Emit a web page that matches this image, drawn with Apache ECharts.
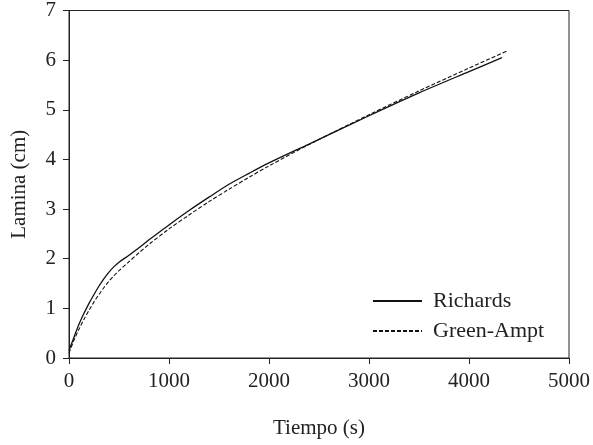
<!DOCTYPE html>
<html>
<head>
<meta charset="utf-8">
<script src="https://cdn.jsdelivr.net/npm/echarts@6/dist/echarts.min.js"></script>
<style>html,body{margin:0;padding:0;background:#fff}#c{width:593px;height:445px}</style>
</head>
<body>
<div id="c"></div>
<script>
const richardsT = [0, 50, 100, 150, 200, 250, 300, 350, 400, 450, 500, 600, 700, 800, 1000, 1200, 1400, 1600, 1800, 2000, 2400, 3000, 3500, 4000, 4330];
const richardsL = [0.15, 0.42, 0.68, 0.9, 1.1, 1.28, 1.45, 1.6, 1.73, 1.84, 1.93, 2.07, 2.22, 2.38, 2.68, 2.97, 3.24, 3.5, 3.72, 3.93, 4.31, 4.88, 5.34, 5.77, 6.05];
const greenT = [0, 50, 100, 150, 200, 250, 300, 350, 400, 450, 500, 600, 700, 800, 1000, 1200, 1400, 1600, 1800, 2000, 2400, 3000, 3500, 4000, 4375];
const greenL = [0.1, 0.36, 0.58, 0.78, 0.96, 1.13, 1.28, 1.42, 1.55, 1.66, 1.76, 1.94, 2.12, 2.29, 2.6, 2.88, 3.15, 3.4, 3.64, 3.87, 4.3, 4.9, 5.38, 5.84, 6.18];
const seriesNames = ['Richards', 'Green-Ampt'];
const xName = 'Tiempo (s)';
const yName = 'Lamina (cm)';

const font = "'Liberation Serif', 'DejaVu Serif', serif";
const fs = 21;
const ink = '#222';
const chart = echarts.init(document.getElementById('c'), null, {renderer: 'canvas'});
const zip = (a, b) => a.map((v, i) => [v, b[i]]);
chart.setOption({
  animation: false,
  backgroundColor: '#fff',
  textStyle: {fontFamily: font, color: ink},
  grid: {left: 69, right: 22, top: 10, bottom: 87, show: true, borderColor: ink, borderWidth: 1},
  legend: {
    left: 367, top: 285, orient: 'vertical', itemWidth: 49, itemHeight: 14, itemGap: 8,
    itemStyle: {color: 'rgba(0,0,0,0)', borderWidth: 0, opacity: 0},
    textStyle: {fontFamily: font, fontSize: 22, color: ink, padding: [0, 0, 0, 6]},
    data: seriesNames
  },
  xAxis: {
    type: 'value', min: 0, max: 5000, interval: 1000,
    name: xName, nameLocation: 'middle', nameGap: 60,
    nameTextStyle: {fontFamily: font, fontSize: fs, color: ink},
    axisLine: {lineStyle: {color: ink, width: 1}},
    axisTick: {show: true, length: 6, lineStyle: {color: ink}},
    axisLabel: {fontFamily: font, fontSize: fs, color: ink, margin: 13, formatter: v => String(v)},
    splitLine: {show: false}
  },
  yAxis: {
    type: 'value', min: 0, max: 7, interval: 1,
    name: yName, nameLocation: 'middle', nameGap: 39,
    nameTextStyle: {fontFamily: font, fontSize: fs, color: ink},
    axisLine: {show: true, lineStyle: {color: ink, width: 1}},
    axisTick: {show: true, length: 6, lineStyle: {color: ink}},
    axisLabel: {fontFamily: font, fontSize: fs, color: ink, margin: 13},
    splitLine: {show: false}
  },
  series: [
    {name: seriesNames[0], type: 'line', data: zip(richardsT, richardsL), smooth: 0.3, symbol: 'none',
     lineStyle: {color: '#111', width: 1.3, type: 'solid'}, itemStyle: {color: '#111'}},
    {name: seriesNames[1], type: 'line', data: zip(greenT, greenL), smooth: 0.3, symbol: 'none',
     lineStyle: {color: '#111', width: 1.1, type: [4, 2]}, itemStyle: {color: '#111'}}
  ]
});
</script>
</body>
</html>
